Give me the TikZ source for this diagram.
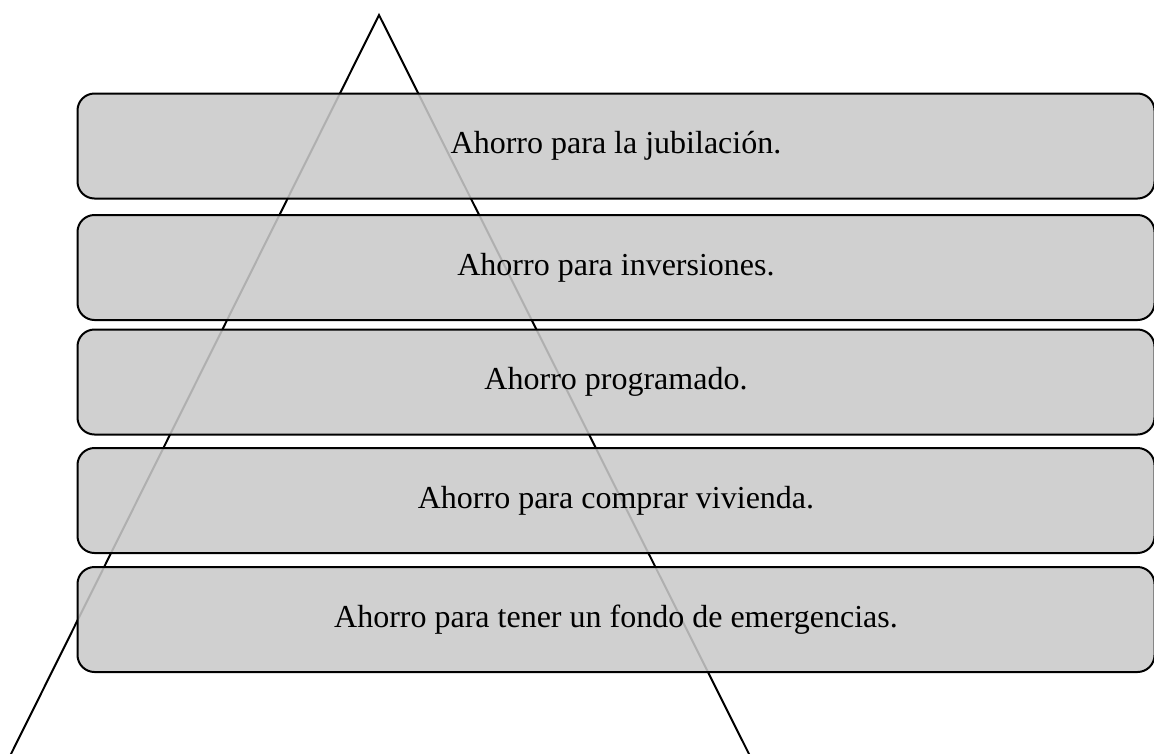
\documentclass[tikz,border=0pt]{standalone}
\usepackage{fontspec}
\setmainfont{Liberation Serif}
\begin{document}
\begin{tikzpicture}[x=1pt,y=-1pt,
  tier/.style={draw=black, line width=2pt, rounded corners=17pt,
    fill={rgb,255:red,201;green,201;blue,201}, fill opacity=0.875, text opacity=1,
    minimum width=1077pt, minimum height=105pt, inner sep=0pt,
    font=\fontsize{32pt}{36pt}\selectfont},
  edge/.style={draw=black, line width=2pt}]
\useasboundingbox (0,0) rectangle (1154,753);
\coordinate (apex) at (379,15);
\coordinate (bl) at (10.5,755);
\coordinate (br) at (749.5,755);
\draw[edge, line join=miter] (bl) -- (apex) -- (br);
\node[tier] (t1) at (616,146) {Ahorro para la jubilación.};
\node[tier] (t2) at (616,267.5) {Ahorro para inversiones.};
\node[tier] (t3) at (616,382) {Ahorro programado.};
\node[tier] (t4) at (616,500.5) {Ahorro para comprar vivienda.};
\node[tier] (t5) at (616,619.5) {Ahorro para tener un fondo de emergencias.};
\end{tikzpicture}
\end{document}
